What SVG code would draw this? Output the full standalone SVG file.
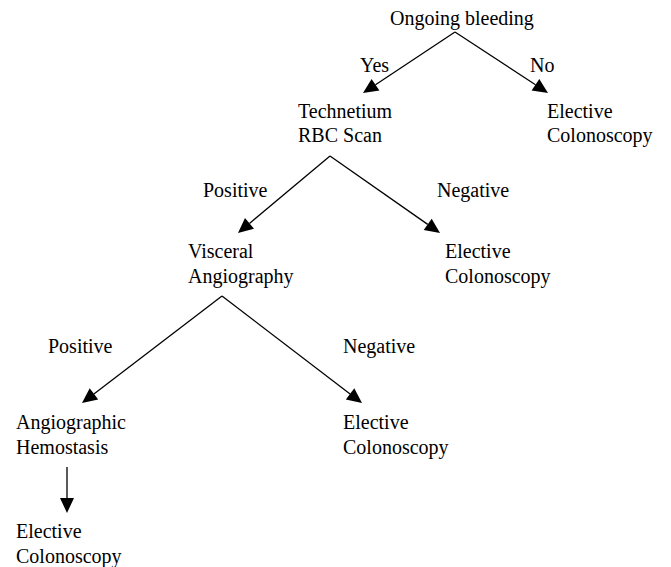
<svg xmlns="http://www.w3.org/2000/svg" width="671" height="567" viewBox="0 0 671 567">
<rect width="671" height="567" fill="#fff"/>
<g id="connectors">
<g stroke="#000" stroke-width="1.3" fill="none">
<line x1="455" y1="32" x2="375.5" y2="84.7"/>
<line x1="455" y1="32" x2="535.5" y2="84.8"/>
<line x1="330" y1="156" x2="249.5" y2="223.4"/>
<line x1="330" y1="156" x2="427.7" y2="224.4"/>
<line x1="222" y1="296" x2="93.9" y2="393.9"/>
<line x1="222" y1="296" x2="350.1" y2="393.9"/>
<line x1="67" y1="467" x2="67" y2="498"/>
</g>
<g fill="#000">
<polygon points="363,93 371.6,78.9 379.4,90.5"/>
<polygon points="548,93 531.6,90.6 539.3,78.9"/>
<polygon points="238,233 245.0,218.0 254.0,228.7"/>
<polygon points="440,233 423.7,230.1 431.7,218.7"/>
<polygon points="82,403 89.7,388.3 98.2,399.5"/>
<polygon points="362,403 345.8,399.5 354.3,388.3"/>
<polygon points="67,513 60,498 74,498"/>
</g>
</g>
<text id="l-yes" x="360" y="72" font-size="20" font-family="Liberation Serif">Yes</text>
<text id="l-no" x="530" y="72" font-size="20" font-family="Liberation Serif">No</text>
<text id="l-pos1" x="203" y="197" font-size="20" font-family="Liberation Serif">Positive</text>
<text id="l-neg1" x="437" y="197" font-size="20" font-family="Liberation Serif">Negative</text>
<text id="l-pos2" x="48" y="353" font-size="20" font-family="Liberation Serif">Positive</text>
<text id="l-neg2" x="343" y="353" font-size="20" font-family="Liberation Serif">Negative</text>
<g id="n-ongoing"><text x="390" y="25" font-size="20" font-family="Liberation Serif">Ongoing bleeding</text></g>
<g id="n-technetium"><text x="298" y="118" font-size="20" font-family="Liberation Serif">Technetium</text><text x="298" y="142" font-size="20" font-family="Liberation Serif">RBC Scan</text></g>
<g id="n-elective1"><text x="547" y="118" font-size="20" font-family="Liberation Serif">Elective</text><text x="547" y="142" font-size="20" font-family="Liberation Serif">Colonoscopy</text></g>
<g id="n-visceral"><text x="188" y="258" font-size="20" font-family="Liberation Serif">Visceral</text><text x="188" y="283" font-size="20" font-family="Liberation Serif">Angiography</text></g>
<g id="n-elective2"><text x="445" y="258" font-size="20" font-family="Liberation Serif">Elective</text><text x="445" y="283" font-size="20" font-family="Liberation Serif">Colonoscopy</text></g>
<g id="n-hemostasis"><text x="16" y="429" font-size="20" font-family="Liberation Serif">Angiographic</text><text x="16" y="454" font-size="20" font-family="Liberation Serif">Hemostasis</text></g>
<g id="n-elective3"><text x="343" y="429" font-size="20" font-family="Liberation Serif">Elective</text><text x="343" y="454" font-size="20" font-family="Liberation Serif">Colonoscopy</text></g>
<g id="n-elective4"><text x="16" y="538" font-size="20" font-family="Liberation Serif">Elective</text><text x="16" y="563" font-size="20" font-family="Liberation Serif">Colonoscopy</text></g>
</svg>
